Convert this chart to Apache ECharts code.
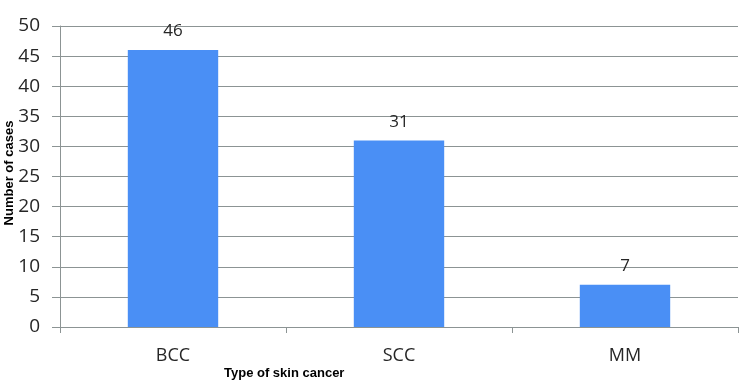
<!DOCTYPE html>
<html>
<head>
<meta charset="utf-8">
<script src="https://cdn.jsdelivr.net/npm/echarts@6/dist/echarts.min.js"></script>
<style>html,body{margin:0;padding:0;background:#fff}#c{width:751px;height:385px}</style>
</head>
<body>
<div id="c"></div>
<script>
var categories = ['BCC', 'SCC', 'MM'];
var cases = [46, 31, 7];
var yTicks = {min: 0, max: 50, interval: 5};

var chart = echarts.init(document.getElementById('c'), null, {renderer: 'canvas'});
chart.setOption({
  animation: false,
  backgroundColor: '#ffffff',
  grid: {left: 60, right: 13, top: 26, bottom: 58, containLabel: false, outerBoundsMode: 'none'},
  xAxis: {
    type: 'category',
    data: categories,
    axisLine: {lineStyle: {color: '#8c9494', width: 1}},
    axisTick: {show: true, length: 6, lineStyle: {color: '#8c9494'}},
    axisLabel: {color: '#262626', fontSize: 18, fontFamily: 'Open Sans', margin: 20}
  },
  yAxis: {
    type: 'value',
    min: yTicks.min, max: yTicks.max, interval: yTicks.interval,
    axisLine: {show: true, lineStyle: {color: '#8c9494', width: 1}},
    axisTick: {show: true, length: 8, lineStyle: {color: '#8c9494'}},
    axisLabel: {color: '#262626', fontSize: 19, fontFamily: 'Open Sans', margin: 20},
    splitLine: {lineStyle: {color: '#8c9494', width: 1}}
  },
  graphic: [{
    type: 'text',
    left: 224, top: 367,
    style: {text: 'Type of skin cancer', fill: '#000', font: 'bold 13px "Liberation Sans"'}
  }, {
    type: 'text',
    x: 9, y: 173,
    rotation: Math.PI / 2,
    style: {text: 'Number of cases', fill: '#000', font: 'bold 13px "Liberation Sans"', align: 'center', verticalAlign: 'middle'}
  }],
  series: [{
    type: 'bar',
    data: cases,
    barWidth: '40%',
    itemStyle: {color: '#4a8ff5'},
    label: {show: true, position: 'top', distance: 10, color: '#262626', fontSize: 17, fontFamily: 'Open Sans'}
  }]
});
</script>
</body>
</html>
